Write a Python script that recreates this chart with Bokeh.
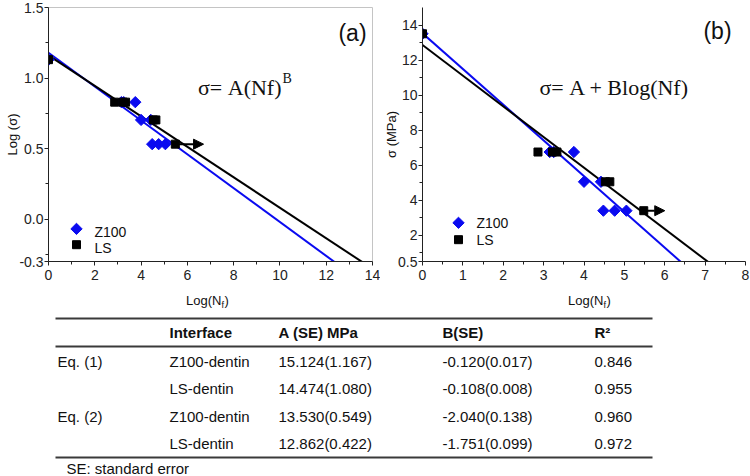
import numpy as np
from bokeh.plotting import figure
from bokeh.layouts import column, row
from bokeh.models import (FixedTicker, Label, Arrow, NormalHead, Range1d)
from bokeh.core.properties import value
from bokeh.embed import file_html
from bokeh.resources import INLINE

# ---------------- data ----------------
z100_lognf = [0.0, 3.15, 3.25, 3.75, 4.0, 4.42, 4.48, 4.76, 5.05]
z100_sigma = [13.5, 6.75, 6.75, 6.75, 5.05, 5.05, 3.4, 3.4, 3.4]
ls_lognf = [0.0, 2.86, 3.22, 3.33, 4.53, 4.64, 5.48]
ls_sigma = [13.5, 6.75, 6.75, 6.75, 5.05, 5.05, 3.4]
runout_end_a = 6.7   # arrow tip of run-out specimen, panel (a)
runout_end_b = 6.0   # arrow tip of run-out specimen, panel (b)

series_names = ["Z100", "LS"]
y_titles = ["Log (\u03c3)", "\u03c3 (MPa)"]

eq_names = ["Eq. (1)", "", "Eq. (2)", ""]
interfaces = ["Z100-dentin", "LS-dentin", "Z100-dentin", "LS-dentin"]
A_est = [15.124, 14.474, 13.530, 12.862]
A_se = [1.167, 1.080, 0.549, 0.422]
B_est = [-0.120, -0.108, -2.040, -1.751]
B_se = [0.017, 0.008, 0.138, 0.099]
r_squared = [0.846, 0.955, 0.960, 0.972]
table_headers = ["", "Interface", "A (SE) MPa", "B(SE)", "R\u00b2"]
footnote = "SE: standard error"

a_xticks = [0, 2, 4, 6, 8, 10, 12, 14]
a_yticks = [-0.3, 0.0, 0.5, 1.0, 1.5]
a_yticklabels = ["-0.3", "0.0", "0.5", "1.0", "1.5"]
b_xticks = [0, 1, 2, 3, 4, 5, 6, 7, 8]
b_yticks = [0.5, 2, 4, 6, 8, 10, 12, 14]
b_yticklabels = ["0.5", "2", "4", "6", "8", "10", "12", "14"]

# ---------------- styles / layout ----------------
SANS = "Liberation Sans"
SERIF = "Liberation Serif"
BLUE = "#0a0af0"
BLACK = "#000000"
AX = "#222222"
TXT = "#111111"

TOP_H = 290          # height of the plot row
W_PA = 380
W_PB = 750 - W_PA
OFF_A = 0
OFF_B = W_PA
FA = (48, 372, 7, 264)    # frame (a) in page pixels: left, right, top, bottom
FB = (422, 745, 5, 261)   # frame (b)


def style_axes(p, ytitle):
    for ax in (p.xaxis[0], p.yaxis[0]):
        ax.axis_line_color = AX
        ax.major_tick_line_color = AX
        ax.minor_tick_line_color = AX
        ax.major_tick_in = 0
        ax.major_tick_out = 4
        ax.minor_tick_in = 0
        ax.minor_tick_out = 3
        ax.major_label_text_font = SANS
        ax.major_label_text_font_size = "14px"
        ax.major_label_text_color = AX
    p.xaxis.major_label_standoff = 4
    p.yaxis.major_label_standoff = 1
    p.yaxis.axis_label = ytitle
    p.yaxis.axis_label_text_font = SANS
    p.yaxis.axis_label_text_font_size = "13px"
    p.yaxis.axis_label_text_font_style = "normal"
    p.yaxis.axis_label_text_color = TXT
    p.yaxis.axis_label_standoff = -4
    p.xgrid.visible = False
    p.ygrid.visible = False


def add_label(p, off, x, y, text, size, font=SANS, align="left",
              baseline="middle"):
    p.add_layout(Label(x=x - off, y=y, x_units="canvas", y_units="canvas",
                       text=text, text_font=font, text_font_size=size,
                       text_align=align, text_baseline=baseline,
                       text_color=TXT))


def to_data(p, frame, px, py):
    # page pixel -> data coordinates, for placing legend swatches
    l, r, t, b = frame
    xr, yr = p.x_range, p.y_range
    x = xr.start + (px - l) / (r - l) * (xr.end - xr.start)
    y = yr.end - (py - t) / (b - t) * (yr.end - yr.start)
    return x, y


def add_points_and_legend(p, frame, off, xz, yz, xl, yl, lx, ly, dy):
    p.scatter(xz, yz, marker="square", angle=np.pi / 4, size=8,
              fill_color=BLUE, line_color=BLUE)
    p.scatter(xl, yl, marker="square", size=8, fill_color=BLACK,
              line_color=BLACK)
    x0, y0 = to_data(p, frame, lx, ly)
    x1, y1 = to_data(p, frame, lx, ly + dy)
    p.scatter([x0], [y0], marker="square", angle=np.pi / 4, size=8,
              fill_color=BLUE, line_color=BLUE)
    p.scatter([x1], [y1], marker="square", size=8, fill_color=BLACK,
              line_color=BLACK)
    add_label(p, off, lx + 18, ly, series_names[0], "14px")
    add_label(p, off, lx + 18, ly + dy, series_names[1], "14px")


def make_panel(width, off, frame, xr, yr, ytitle):
    l, r, t, b = frame
    p = figure(width=width, height=TOP_H, x_range=Range1d(*xr),
               y_range=Range1d(*yr), output_backend="svg",
               toolbar_location=None, min_border_left=l - off,
               min_border_right=off + width - r, min_border_top=t,
               min_border_bottom=TOP_H - b)
    style_axes(p, ytitle)
    return p


def blank_fig(width, height):
    f = figure(width=width, height=height, x_range=Range1d(0, width),
               y_range=Range1d(height, 0), output_backend="svg",
               toolbar_location=None, min_border=0,
               x_axis_location=None, y_axis_location=None)
    f.outline_line_color = None
    f.xgrid.visible = False
    f.ygrid.visible = False
    return f


# ---------------- panel (a) ----------------
pa = make_panel(W_PA, OFF_A, FA, (0, 14), (-0.3, 1.5), y_titles[0])
pa.outline_line_color = "#c4c4c4"
pa.xaxis.ticker = FixedTicker(ticks=a_xticks,
                              minor_ticks=[v + 1 for v in a_xticks[:-1]])
pa.yaxis.ticker = FixedTicker(ticks=a_yticks,
                              minor_ticks=[-0.25, 0.25, 0.75, 1.25])
pa.yaxis.major_label_overrides = {t: s for t, s in zip(a_yticks, a_yticklabels)}

xa_fit = [0, 14]
pa.line(xa_fit, [np.log10(A_est[0]) + B_est[0] * x for x in xa_fit],
        line_color=BLUE, line_width=2)
pa.line(xa_fit, [np.log10(A_est[1]) + B_est[1] * x for x in xa_fit],
        line_color=BLACK, line_width=2)
pa.add_layout(Arrow(end=NormalHead(size=10, fill_color=BLACK, line_color=BLACK),
                    x_start=ls_lognf[-1], y_start=np.log10(ls_sigma[-1]),
                    x_end=runout_end_a, y_end=np.log10(ls_sigma[-1]),
                    line_width=2, line_color=BLACK))
add_points_and_legend(pa, FA, OFF_A, z100_lognf,
                      np.log10(z100_sigma).tolist(), ls_lognf,
                      np.log10(ls_sigma).tolist(), 76, 231, 16)
add_label(pa, OFF_A, 352, 32, "(a)", "23px", align="center")
add_label(pa, OFF_A, 281, 87, "\u03c3= A(Nf)", "22px", font=SERIF, align="right")
add_label(pa, OFF_A, 282, 78, "B", "14px", font=SERIF)

# ---------------- panel (b) ----------------
pb = make_panel(W_PB, OFF_B, FB, (0, 8), (0.5, 15), y_titles[1])
pb.outline_line_color = None
pb.xaxis.ticker = FixedTicker(ticks=b_xticks,
                              minor_ticks=[v + 0.5 for v in b_xticks[:-1]])
pb.yaxis.ticker = FixedTicker(ticks=b_yticks,
                              minor_ticks=[1, 3, 5, 7, 9, 11, 13])
pb.yaxis.major_label_overrides = {t: s for t, s in zip(b_yticks, b_yticklabels)}

xb_fit = [0, 8]
pb.line(xb_fit, [A_est[2] + B_est[2] * x for x in xb_fit],
        line_color=BLUE, line_width=2)
pb.line(xb_fit, [A_est[3] + B_est[3] * x for x in xb_fit],
        line_color=BLACK, line_width=2)
pb.add_layout(Arrow(end=NormalHead(size=10, fill_color=BLACK, line_color=BLACK),
                    x_start=ls_lognf[-1], y_start=ls_sigma[-1],
                    x_end=runout_end_b, y_end=ls_sigma[-1],
                    line_width=2, line_color=BLACK))
add_points_and_legend(pb, FB, OFF_B, z100_lognf, z100_sigma, ls_lognf,
                      ls_sigma, 458, 222, 17)
add_label(pb, OFF_B, 717, 30, "(b)", "23px", align="center")
add_label(pb, OFF_B, 539, 87, "\u03c3= A + Blog(Nf)", "22px", font=SERIF)

# ---------------- table (+ x-axis titles) ----------------
TOP = TOP_H
pt = blank_fig(750, 476 - TOP)

xt_main = [221, 603]
xt_y = 300 - TOP
pt.text(x=xt_main, y=[xt_y] * 2, text=["Log(N"] * 2, text_font=value(SANS),
        text_font_size="13px", text_baseline="middle", text_align="right",
        text_color=TXT)
pt.text(x=xt_main, y=[xt_y + 4] * 2, text=["f"] * 2, text_font=value(SANS),
        text_font_size="9px", text_baseline="middle", text_color=TXT)
pt.text(x=[v + 3 for v in xt_main], y=[xt_y] * 2, text=[")"] * 2,
        text_font=value(SANS), text_font_size="13px", text_baseline="middle",
        text_color=TXT)

col_x = [57, 169, 278, 442, 594]
row_y = [361 - TOP, 388 - TOP, 416 - TOP, 443 - TOP]
header_y = 332 - TOP
rule_y = [318 - TOP, 346 - TOP, 457 - TOP]

pt.segment(x0=[55] * 3, x1=[652] * 3, y0=rule_y, y1=rule_y,
           line_color="#3a3a3a", line_width=2)

pt.text(x=col_x, y=[header_y] * 5, text=table_headers,
        text_font=value(SANS), text_font_size="15px", text_font_style="bold",
        text_baseline="middle", text_color=TXT)

cells_x, cells_y, cells_t = [], [], []
for i in range(4):
    row_txt = [eq_names[i], interfaces[i],
               f"{A_est[i]:.3f}({A_se[i]:.3f})",
               f"{B_est[i]:.3f}({B_se[i]:.3f})",
               f"{r_squared[i]:.3f}"]
    for j, t in enumerate(row_txt):
        cells_x.append(col_x[j])
        cells_y.append(row_y[i])
        cells_t.append(t)
pt.text(x=cells_x, y=cells_y, text=cells_t, text_font=value(SANS),
        text_font_size="15px", text_baseline="middle", text_color=TXT)
pt.text(x=[66], y=[468 - TOP], text=[footnote], text_font=value(SANS),
        text_font_size="15px", text_baseline="middle", text_color=TXT)

root = column(row(pa, pb), pt)
open("out.html", "w").write(file_html(root, INLINE))
